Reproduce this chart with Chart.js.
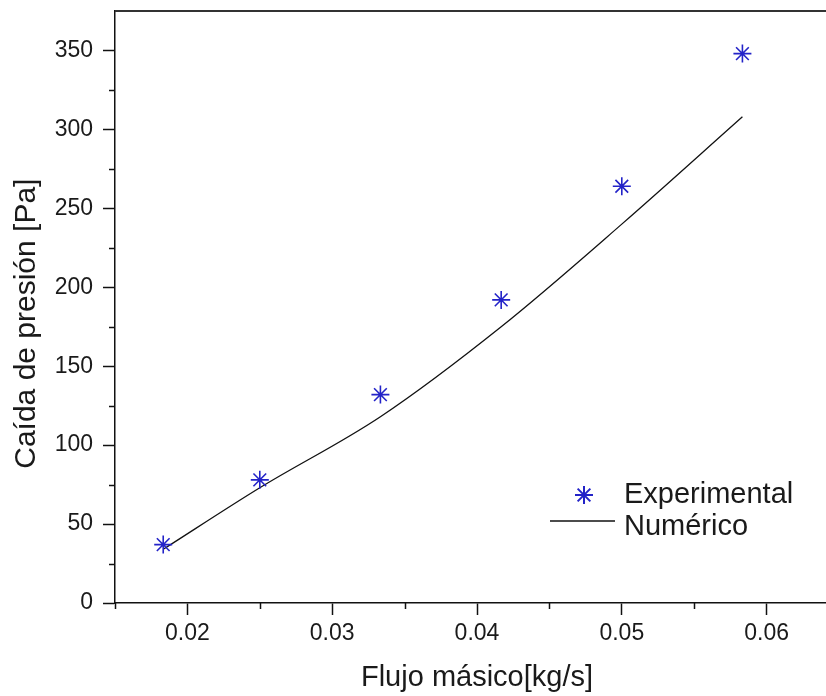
<!DOCTYPE html>
<html><head><meta charset="utf-8">
<script src="https://cdn.jsdelivr.net/npm/chart.js@4.4.0/dist/chart.umd.min.js"></script>
<style>
html,body{margin:0;padding:0;background:#fff;overflow:hidden;}
#wrap{width:826px;height:696px;overflow:hidden;position:relative;background:#fff;}
canvas{display:block;}
</style></head><body>
<div id="wrap"><canvas id="c" width="870" height="696"></canvas></div>
<script>
// ---- data ----
const massFlow = [0.01833, 0.025, 0.03333, 0.04167, 0.05, 0.05833];
const experimental = [37, 78, 132, 192, 264, 348];
const numerico = [34, 73, 118, 175, 240, 308];
const xMajorTicks = [0.02, 0.03, 0.04, 0.05, 0.06];
const xMinorTicks = [0.015, 0.025, 0.035, 0.045, 0.055, 0.065];
const yMajorTicks = [0, 50, 100, 150, 200, 250, 300, 350];
const yMinorTicks = [25, 75, 125, 175, 225, 275, 325];
const seriesNames = ['Experimental', 'Numérico'];
const xTitle = 'Flujo másico[kg/s]';
const yTitle = 'Caída de presión [Pa]';

const FONT = '"Liberation Sans", Arial, sans-serif';
const BLUE = '#2323c8';
const INK = '#1a1a1a';

const extras = {
  id: 'extras',
  afterDraw(chart) {
    const {ctx, chartArea: a, scales: {x, y}} = chart;
    ctx.save();
    ctx.strokeStyle = '#111';
    ctx.lineWidth = 1.5;
    ctx.beginPath();
    xMinorTicks.forEach(v => { const px = Math.round(x.getPixelForValue(v)) + 0.5; ctx.moveTo(px, a.bottom); ctx.lineTo(px, a.bottom + 6); });
    yMinorTicks.forEach(v => { const py = Math.round(y.getPixelForValue(v)) + 0.5; ctx.moveTo(a.left, py); ctx.lineTo(a.left - 6, py); });
    ctx.stroke();
    // top frame line
    ctx.strokeStyle = '#333';
    ctx.lineWidth = 2;
    ctx.beginPath(); ctx.moveTo(a.left, a.top); ctx.lineTo(a.right, a.top); ctx.stroke();
    // legend
    const lx = 584, ly1 = 495, ly2 = 525, tx = 624;
    ctx.strokeStyle = BLUE; ctx.fillStyle = BLUE;
    Chart.helpers.drawPoint(ctx, {pointStyle: 'star', radius: 9, borderWidth: 1.6, rotation: 0}, lx, ly1);
    ctx.strokeStyle = '#111'; ctx.lineWidth = 1.3;
    ctx.beginPath(); ctx.moveTo(550, ly2 - 4); ctx.lineTo(615, ly2 - 4); ctx.stroke();
    ctx.fillStyle = INK;
    ctx.font = '29px ' + FONT;
    ctx.textBaseline = 'middle';
    ctx.textAlign = 'left';
    ctx.fillText(seriesNames[0], tx, ly1);
    ctx.fillText(seriesNames[1], tx, ly2 + 2);
    ctx.restore();
  }
};

new Chart(document.getElementById('c'), {
  type: 'scatter',
  data: {
    datasets: [
      {
        label: seriesNames[1],
        data: massFlow.map((v, i) => ({x: v, y: numerico[i]})),
        showLine: true, borderColor: '#111', borderWidth: 1.3,
        pointRadius: 0, cubicInterpolationMode: 'monotone', order: 2
      },
      {
        label: seriesNames[0],
        data: massFlow.map((v, i) => ({x: v, y: experimental[i]})),
        showLine: false, pointStyle: 'star', pointRadius: 9,
        borderColor: BLUE, backgroundColor: BLUE, pointBorderWidth: 1.6, order: 1
      }
    ]
  },
  options: {
    responsive: false, animation: false, devicePixelRatio: 1,
    layout: {padding: {top: 11, right: 31, left: 0, bottom: 0}},
    plugins: {legend: {display: false}, tooltip: {enabled: false}},
    scales: {
      x: {
        type: 'linear', min: 0.015, max: 0.065,
        afterBuildTicks: s => { s.ticks = xMajorTicks.map(v => ({value: v})); },
        afterFit: s => { s.height = 93; s.paddingLeft = 0; s.paddingRight = 0; },
        grid: {drawOnChartArea: false, drawTicks: true, tickLength: 12, tickColor: '#111', tickWidth: 1.5},
        border: {display: true, color: '#111', width: 1.5},
        ticks: {font: {family: FONT, size: 23}, color: INK, padding: 5, maxRotation: 0, autoSkip: false,
                callback: v => Number(v).toFixed(2)},
        title: {display: true, text: xTitle, font: {family: FONT, size: 29}, color: INK, padding: {top: 0, bottom: 1}}
      },
      y: {
        type: 'linear', min: 0, max: 375,
        afterBuildTicks: s => { s.ticks = yMajorTicks.map(v => ({value: v})); },
        afterFit: s => { s.width = 115; s.paddingTop = 0; s.paddingBottom = 0; },
        grid: {drawOnChartArea: false, drawTicks: true, tickLength: 12, tickColor: '#111', tickWidth: 1.5},
        border: {display: true, color: '#111', width: 1.5},
        ticks: {font: {family: FONT, size: 23}, color: INK, padding: 10, autoSkip: false,
                callback: v => String(v)},
        title: {display: true, text: yTitle + '    ', font: {family: FONT, size: 30}, color: INK, padding: {top: 9, bottom: 0}}
      }
    }
  },
  plugins: [extras]
});
</script>
</body></html>
